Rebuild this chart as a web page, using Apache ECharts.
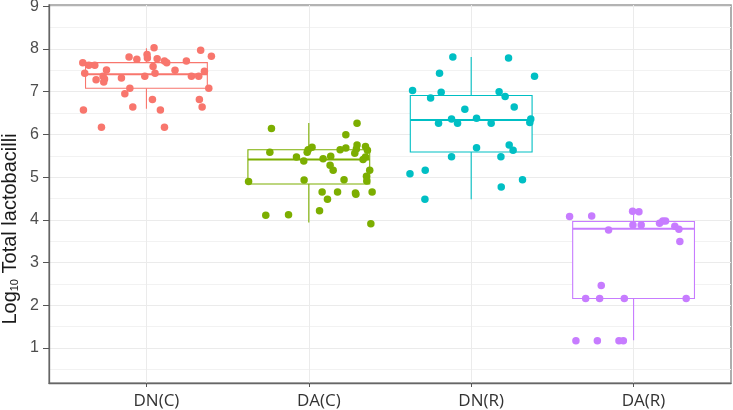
<!DOCTYPE html>
<html>
<head>
<meta charset="utf-8">
<script src="https://cdn.jsdelivr.net/npm/echarts@6/dist/echarts.min.js"></script>
<style>html,body{margin:0;padding:0;background:#fff;}#c{width:733px;height:410px;}</style>
</head>
<body>
<div id="c"></div>
<script>
const categories = ['DN(C)', 'DA(C)', 'DN(R)', 'DA(R)'];
const colors = ['#F8766D', '#7CAE00', '#00BFC4', '#C77CFF'];
const yTicks = [1, 2, 3, 4, 5, 6, 7, 8, 9];
const yMinorTicks = [0.5, 1.5, 2.5, 3.5, 4.5, 5.5, 6.5, 7.5, 8.5];
// [lower whisker, Q1, median, Q3, upper whisker]
const boxDNC = [6.60, 7.08, 7.41, 7.68, 8.02];
const boxDAC = [3.94, 4.84, 5.41, 5.64, 6.27];
const boxDNR = [4.48, 5.59, 6.34, 6.91, 7.81];
const boxDAR = [1.18, 2.16, 3.79, 3.96, 4.19];
// jitter offsets (category units) and values
const dncJit = [-0.392,-0.355,-0.318,-0.380,-0.246,-0.310,-0.267,-0.258,-0.263,-0.154,-0.107,-0.059,0.004,0.006,0.047,0.066,0.041,0.053,-0.010,0.111,0.125,0.176,0.246,0.277,0.322,0.357,0.334,0.400,0.384,0.326,0.343,-0.102,-0.133,-0.084,0.037,0.086,-0.388,-0.277,0.111];
const dncVal = [7.68,7.62,7.62,7.43,7.51,7.28,7.36,7.30,7.23,7.32,7.81,7.76,7.87,7.79,8.03,7.77,7.59,7.43,7.36,7.72,7.68,7.50,7.72,7.36,7.36,7.48,7.97,7.83,7.08,6.82,6.64,7.08,6.95,6.64,6.82,6.57,6.57,6.17,6.17];
const dacJit = [-0.230,-0.240,-0.371,-0.265,-0.125,-0.076,-0.031,-0.010,-0.004,0.020,-0.029,0.088,0.135,0.131,0.150,0.082,0.115,0.066,0.177,0.193,0.228,0.228,0.297,0.297,0.293,0.283,0.349,0.361,0.349,0.334,0.375,0.355,0.357,0.217,0.287,0.290,0.390,0.382];
const dacVal = [6.14,5.58,4.90,4.11,4.12,5.47,5.38,5.58,5.64,5.70,4.93,5.43,5.49,5.28,5.16,4.65,4.48,4.21,4.65,5.64,5.68,5.99,6.26,5.75,5.66,5.56,5.72,5.63,5.47,5.41,5.16,5.02,4.91,4.94,4.63,4.60,4.65,3.91];
const dnrJit = [-0.113,-0.195,-0.361,-0.185,-0.250,-0.039,-0.121,-0.201,-0.084,0.033,0.123,0.230,0.390,0.172,0.209,0.265,0.367,0.361,0.033,0.234,0.258,-0.121,0.183,-0.377,-0.283,-0.285,0.185,0.316];
const dnrVal = [7.81,7.43,7.03,6.99,6.85,6.59,6.36,6.26,6.26,6.38,6.26,7.79,7.36,7.00,6.89,6.64,6.36,6.28,5.69,5.75,5.63,5.48,5.48,5.08,5.16,4.48,4.77,4.94];
const darJit = [-0.394,-0.258,-0.006,0.033,-0.004,0.047,-0.154,0.160,0.180,0.197,0.254,0.279,0.285,-0.199,-0.295,-0.209,-0.057,0.324,-0.355,-0.223,-0.090,-0.063];
const darVal = [4.08,4.09,4.20,4.19,3.88,3.88,3.76,3.92,3.97,3.97,3.85,3.78,3.49,2.46,2.16,2.16,2.16,2.16,1.17,1.17,1.17,1.17];

const boxes = [boxDNC, boxDAC, boxDNR, boxDAR];
const jits = [dncJit, dacJit, dnrJit, darJit];
const vals = [dncVal, dacVal, dnrVal, darVal];
const halfBox = 0.375;

const chart = echarts.init(document.getElementById('c'), null, {renderer: 'canvas'});

const boxSeries = {
  type: 'custom',
  xAxisIndex: 0, yAxisIndex: 0,
  z: 2,
  data: boxes.map((b, i) => [i + 1].concat(b)),
  renderItem: function (params, api) {
    const x = api.value(0);
    const i = params.dataIndex;
    const col = colors[i];
    const lw = api.coord([x, api.value(1)]);
    const q1 = api.coord([x - halfBox, api.value(2)]);
    const md = api.coord([x - halfBox, api.value(3)]);
    const q3 = api.coord([x + halfBox, api.value(4)]);
    const uw = api.coord([x, api.value(5)]);
    const mdR = api.coord([x + halfBox, api.value(3)]);
    return {
      type: 'group',
      children: [
        {type: 'line', shape: {x1: lw[0], y1: lw[1], x2: lw[0], y2: q1[1]}, style: {stroke: col, lineWidth: 1.1}},
        {type: 'line', shape: {x1: uw[0], y1: uw[1], x2: uw[0], y2: q3[1]}, style: {stroke: col, lineWidth: 1.1}},
        {type: 'rect', shape: {x: q1[0], y: q3[1], width: q3[0] - q1[0], height: q1[1] - q3[1]}, style: {fill: '#fff', stroke: col, lineWidth: 1.1}},
        {type: 'line', shape: {x1: md[0], y1: md[1], x2: mdR[0], y2: mdR[1]}, style: {stroke: col, lineWidth: 2}}
      ]
    };
  }
};

const pointSeries = categories.map((c, i) => ({
  type: 'scatter',
  name: c,
  z: 3,
  symbolSize: 7.5,
  itemStyle: {color: colors[i], opacity: 1},
  data: vals[i].map((v, k) => [i + 1 + jits[i][k], v]),
  silent: true
}));

chart.setOption({
  animation: false,
  backgroundColor: '#fff',
  grid: {left: 49, top: 5, right: 2, bottom: 27, outerBoundsMode: 'none', containLabel: false, show: true, borderColor: '#9a9a9a', borderWidth: 1.6, backgroundColor: 'transparent'},
  graphic: [{
    type: 'text', x: 9, y: 229, rotation: Math.PI / 2, z: 10,
    style: {
      text: '{n|Log}{s|10}{n| Total lactobacilli}',
      align: 'center', verticalAlign: 'middle',
      rich: {
        n: {fontFamily: 'Liberation Sans', fontSize: 20, fill: '#1a1a1a', verticalAlign: 'bottom', lineHeight: 22},
        s: {fontFamily: 'Liberation Sans', fontSize: 11, fill: '#1a1a1a', verticalAlign: 'bottom', lineHeight: 18}
      }
    }
  }],
  xAxis: {
    type: 'value', min: 0.4, max: 4.6,
    axisLine: {show: true, onZero: false, lineStyle: {color: '#666', width: 1.3}},
    axisTick: {show: true, length: 4, customValues: [1, 2, 3, 4], lineStyle: {color: '#555'}},
    axisLabel: {customValues: [1, 2, 3, 4], formatter: v => categories[Math.round(v) - 1] || '', fontFamily: 'Open Sans', fontSize: 17, color: '#333', margin: 10, padding: [0, 0, 0, 20]},
    splitLine: {show: true, lineStyle: {color: '#ebebeb', width: 1}}
  },
  yAxis: [{
    type: 'value', min: 0.18, max: 9.03,
    axisLine: {show: true, onZero: false, lineStyle: {color: '#666', width: 1.3}},
    axisTick: {show: true, length: 6, customValues: yTicks, lineStyle: {color: '#555'}},
    axisLabel: {customValues: yTicks, fontFamily: 'Liberation Sans', fontSize: 16, color: '#4d4d4d', margin: 10},
    splitLine: {show: true, lineStyle: {color: '#ebebeb', width: 1}}
  }, {
    type: 'value', min: 0.18, max: 9.03, position: 'left',
    axisLine: {show: false}, axisTick: {show: false, customValues: yMinorTicks},
    axisLabel: {show: false, customValues: yMinorTicks},
    splitLine: {show: true, lineStyle: {color: '#f2f2f2', width: 1}}
  }],
  series: [boxSeries].concat(pointSeries)
});
</script>
</body>
</html>
